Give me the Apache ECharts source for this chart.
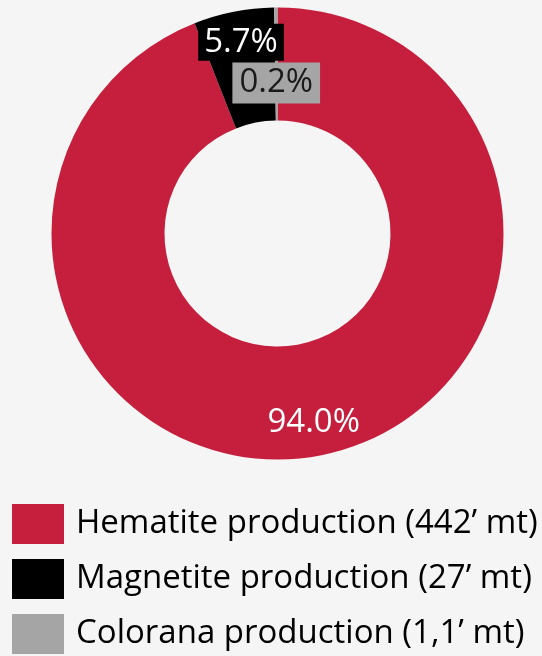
<!DOCTYPE html>
<html>
<head>
<meta charset="utf-8">
<script src="https://cdn.jsdelivr.net/npm/echarts@6/dist/echarts.min.js"></script>
<style>
	html, body { margin: 0; padding: 0; background: #f5f5f5; }
	#chartmain { width: 542px; height: 656px; }
</style>
</head>
<body>
<div id="chartmain"></div>
<script>
var names = ['Hematite production (442\u2019 mt)', 'Magnetite production (27\u2019 mt)', 'Colorana production (1,1\u2019 mt)'];
var values = [442, 27, 1.1];
var colors = ['#c51f3d', '#000000', '#a5a5a5'];

// label tweaks per slice (placed by hand in the original)
var labelStyles = [
	{ color : '#ffffff', offset : [ 4, 20 ] },
	{ color : '#ffffff', offset : [ -3, -22 ], backgroundColor : '#000000', padding : [ 3, 6, 1, 6 ] },
	{ color : '#1a1a1a', offset : [ 0, 22 ], backgroundColor : '#a5a5a5', padding : [ 5, 7, 3, 7 ] }
];

var seriesData = [];
for (var i = 0; i < names.length; i++) {
	var lb = labelStyles[i];
	seriesData.push({
		name : names[i],
		value : values[i],
		itemStyle : { color : colors[i] },
		label : {
			color : lb.color,
			offset : lb.offset,
			backgroundColor : lb.backgroundColor || 'transparent',
			padding : lb.padding || 0
		}
	});
}

var option = {
	backgroundColor : '#f5f5f5',
	animation : false,
	legend : {
		orient : 'vertical',
		left : 12,
		top : 504,
		height : 152,
		padding : 0,
		icon : 'rect',
		itemWidth : 52,
		itemHeight : 40,
		itemGap : 15,
		selectedMode : false,
		textStyle : {
			fontFamily : 'Open Sans',
			fontSize : 33,
			color : '#000000',
			padding : [ 0, 0, 0, 7 ]
		},
		data : names
	},
	series : [ {
		type : 'pie',
		center : [ 277.5, 233.5 ],
		radius : [ 113, 226 ],
		startAngle : 90,
		clockwise : true,
		avoidLabelOverlap : false,
		minShowLabelAngle : 0,
		labelLayout : { hideOverlap : false },
		itemStyle : { borderWidth : 0 },
		emphasis : { disabled : true },
		label : {
			show : true,
			position : 'inside',
			fontFamily : 'Open Sans',
			fontSize : 33,
			formatter : function(p) {
				return p.percent.toFixed(1) + '%';
			}
		},
		labelLine : { show : false },
		data : seriesData
	} ]
};

var myChart = echarts.init(document.getElementById('chartmain'));
myChart.setOption(option);
</script>
</body>
</html>
